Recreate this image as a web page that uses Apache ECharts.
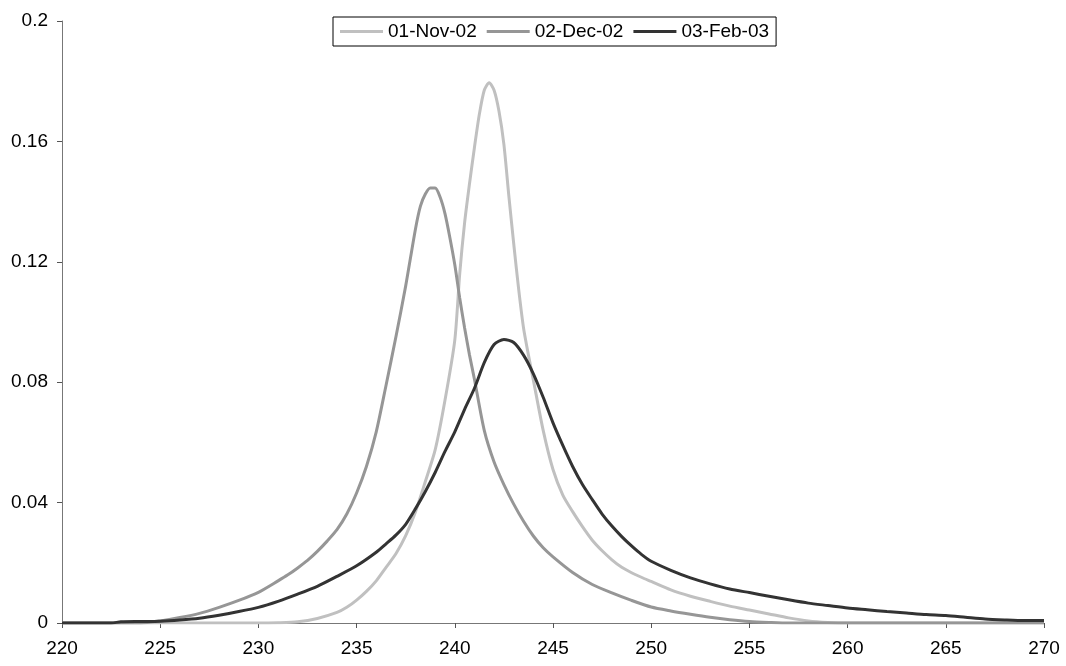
<!DOCTYPE html>
<html>
<head>
<meta charset="utf-8">
<script src="https://cdn.jsdelivr.net/npm/echarts@6/dist/echarts.min.js"></script>
<style>html,body{margin:0;padding:0;background:#fff;}#c{width:1066px;height:666px;}</style>
</head>
<body>
<div id="c"></div>
<script>
const seriesNames = ['01-Nov-02', '02-Dec-02', '03-Feb-03'];
const xTicks = [220, 225, 230, 235, 240, 245, 250, 255, 260, 265, 270];
const yTicks = [0, 0.04, 0.08, 0.12, 0.16, 0.2];

const novX = [220,230,231,232,233,234,234.5,235,235.5,236,236.5,237,237.5,238,238.5,239,239.5,240,240.25,240.5,240.75,241,241.25,241.5,241.75,242,242.25,242.5,242.75,243,243.25,243.5,243.75,244,244.5,245,245.5,246,246.5,247,247.5,248,248.5,249,249.5,250,251,252,253,254,255,256,257,258,259,260,270];
const novY = [0,0,0.0001,0.0004,0.0015,0.0035,0.0052,0.0076,0.0105,0.014,0.0185,0.023,0.029,0.037,0.047,0.0575,0.074,0.094,0.116,0.133,0.146,0.158,0.169,0.177,0.1795,0.177,0.170,0.159,0.142,0.126,0.111,0.098,0.089,0.0807,0.064,0.051,0.0425,0.037,0.032,0.0275,0.024,0.021,0.0185,0.0167,0.0152,0.0138,0.011,0.0089,0.0072,0.0056,0.0043,0.003,0.0017,0.0007,0.0002,0,0];

const decX = [220,224,225,226,227,228,229,230,231,231.5,232,232.5,233,233.5,234,234.5,235,235.5,236,236.5,237,237.5,238,238.25,238.5,238.75,239,239.25,239.5,239.75,240,240.25,240.5,240.75,241,241.5,242,242.5,243,243.5,244,244.5,245,246,247,248,249,250,251,252,253,254,255,256,257,270];
const decY = [0,0,0.0007,0.0018,0.0032,0.0052,0.0075,0.0102,0.014,0.016,0.0183,0.0208,0.0238,0.0272,0.031,0.0362,0.0432,0.052,0.0635,0.079,0.095,0.112,0.131,0.1385,0.1425,0.1445,0.1445,0.1415,0.136,0.128,0.119,0.108,0.098,0.089,0.081,0.064,0.0535,0.046,0.0395,0.0338,0.0289,0.025,0.022,0.0168,0.0128,0.0100,0.0075,0.0053,0.0040,0.0029,0.0019,0.0011,0.0005,0.0002,0,0];

const febX = [220,222.5,223,224,225,226,227,228,229,230,231,232,233,234,235,236,236.5,237,237.5,238,238.5,239,239.5,240,240.5,241,241.5,242,242.5,243,243.5,244,244.5,245,245.5,246,246.5,247,247.5,248,248.5,249,249.5,250,251,252,253,254,255,256,257,258,259,260,261,262,263,264,265,266,267,268,269,270];
const febY = [0,0,0.0004,0.0005,0.0006,0.001,0.0016,0.0026,0.0038,0.0052,0.0072,0.0096,0.0122,0.0155,0.019,0.0235,0.0263,0.0292,0.0328,0.038,0.0437,0.050,0.057,0.0635,0.071,0.078,0.0865,0.0925,0.0942,0.0932,0.089,0.0828,0.075,0.0665,0.059,0.052,0.046,0.041,0.0362,0.0322,0.0287,0.0256,0.0228,0.0205,0.0175,0.015,0.013,0.0113,0.0101,0.0089,0.0077,0.0066,0.0058,0.005,0.0044,0.0038,0.0033,0.0028,0.0025,0.0019,0.0013,0.001,0.0008,0.0008];

const colors = ['#c0c0c0', '#969696', '#333333'];
const zip = (xs, ys) => xs.map((x, i) => [x, ys[i]]);
const allData = [zip(novX, novY), zip(decX, decY), zip(febX, febY)];

const font = 'Liberation Sans, Arial, sans-serif';
const chart = echarts.init(document.getElementById('c'), null, {renderer: 'canvas'});
chart.setOption({
  animation: false,
  backgroundColor: '#ffffff',
  grid: {left: 62, right: 22, top: 21, bottom: 43, containLabel: false},
  legend: {
    data: seriesNames.map(n => ({name: n, icon: 'rect'})),
    left: 333, top: 17,
    padding: [5, 7],
    itemGap: 10,
    itemWidth: 43,
    itemHeight: 3,
    borderColor: '#000', borderWidth: 1, borderRadius: 0,
    backgroundColor: '#fff',
    textStyle: {fontFamily: font, fontSize: 19, color: '#000'}
  },
  xAxis: {
    type: 'value', min: 220, max: 270, interval: 5,
    axisLine: {show: true, lineStyle: {color: '#777', width: 1}},
    axisTick: {show: true, length: 5, lineStyle: {color: '#555'}},
    axisLabel: {margin: 16, fontFamily: font, fontSize: 19, color: '#000',
      formatter: v => xTicks.includes(v) ? String(v) : ''},
    splitLine: {show: false}
  },
  yAxis: {
    type: 'value', min: 0, max: 0.2, interval: 0.04,
    axisLine: {show: true, lineStyle: {color: '#777', width: 1}},
    axisTick: {show: true, length: 5, lineStyle: {color: '#555'}},
    axisLabel: {margin: 14, fontFamily: font, fontSize: 19, color: '#000',
      formatter: v => { const t = yTicks.find(k => Math.abs(k - v) < 1e-9); return t === undefined ? '' : String(t); }},
    splitLine: {show: false}
  },
  series: seriesNames.map((name, i) => ({
    name, type: 'line', data: allData[i],
    symbol: 'none', showSymbol: false,
    smooth: 0.25,
    lineStyle: {color: colors[i], width: 3},
    itemStyle: {color: colors[i]},
    z: 2 + i
  }))
});
</script>
</body>
</html>
